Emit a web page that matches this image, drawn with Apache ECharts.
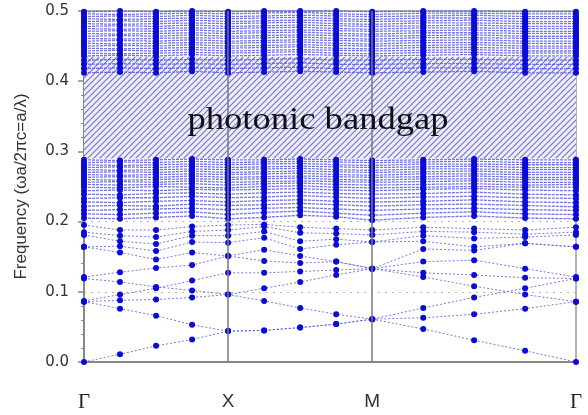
<!DOCTYPE html>
<html>
<head>
<meta charset="utf-8">
<title>band structure</title>
<style>
  html, body { margin: 0; padding: 0; background: #fff; }
  #main { width: 588px; height: 415px; }
</style>
</head>
<body>
<div id="main"></div>
<script src="https://cdn.jsdelivr.net/npm/echarts@6/dist/echarts.min.js"></script>
<script>
// k path: Γ -> X -> M -> Γ, 4 steps per segment
var kPath = [0, 0.25, 0.5, 0.75, 1, 1.25, 1.5, 1.75, 2, 2.354, 2.707, 3.061, 3.414];
var kTicks = [0, 1, 2, 3.414];
var kNames = ['Γ', 'X', 'M', 'Γ'];
var gapLow = 0.29, gapHigh = 0.435;

// clearly resolved low bands
var lowBands = [
  [0, .011, .023, .032, .044, .045, .049, .054, .061, .047, .031, .016, 0],
  [.086, .076, .066, .053, .044, .045, .049, .054, .061, .063, .068, .076, .086],
  [.086, .088, .089, .092, .096, .087, .077, .068, .061, .077, .092, .105, .119],
  [.087, .096, .105, .116, .127, .127, .129, .131, .133, .127, .124, .120, .119],
  [.119, .114, .107, .102, .096, .105, .114, .124, .133, .121, .108, .096, .086],
  [.121, .128, .134, .138, .151, .144, .141, .143, .133, .143, .145, .133, .121],
  [.164, .156, .146, .156, .151, .160, .151, .143, .133, .161, .159, .169, .164],
  [.164, .165, .158, .171, .170, .177, .161, .167, .171, .172, .164, .169, .164],
  [.181, .172, .168, .180, .180, .186, .172, .175, .171, .180, .176, .178, .181],
  [.185, .180, .178, .186, .188, .193, .184, .183, .181, .186, .185, .182, .185],
  [.195, .188, .188, .193, .195, .196, .192, .190, .188, .192, .190, .188, .192]
];

// bands between 0.2 and the gap
var midBands = [
  [.205, .204, .206, .208, .204, .206, .209, .207, .202, .206, .208, .205, .204],
  [.211, .210, .212, .214, .210, .213, .215, .212, .209, .212, .214, .211, .210],
  [.216, .217, .218, .219, .217, .219, .220, .218, .216, .218, .219, .217, .216],
  [.222, .223, .222, .225, .223, .224, .226, .224, .222, .224, .225, .223, .221],
  [.228, .227, .229, .230, .228, .230, .231, .229, .228, .229, .231, .228, .227],
  [.233, .234, .234, .236, .234, .235, .237, .235, .233, .235, .236, .234, .233],
  [.239, .238, .240, .241, .239, .241, .242, .240, .239, .240, .242, .239, .238],
  [.244, .245, .244, .246, .245, .246, .247, .245, .244, .246, .247, .245, .244],
  [.249, .248, .250, .249, .248, .250, .251, .249, .248, .249, .250, .249, .249],
  [.253, .252, .253, .254, .252, .254, .255, .253, .252, .253, .254, .252, .253],
  [.256, .257, .256, .258, .256, .257, .258, .257, .256, .257, .258, .256, .256],
  [.260, .259, .260, .261, .260, .261, .262, .260, .259, .261, .261, .260, .260],
  [.263, .264, .263, .265, .263, .264, .265, .264, .263, .264, .265, .263, .263],
  [.267, .266, .267, .268, .267, .268, .269, .267, .266, .268, .268, .267, .267],
  [.270, .271, .270, .272, .270, .271, .272, .271, .270, .271, .272, .270, .270],
  [.274, .273, .274, .275, .274, .275, .276, .274, .273, .275, .275, .274, .274],
  [.277, .278, .277, .279, .277, .278, .279, .278, .277, .278, .279, .277, .277],
  [.281, .280, .281, .282, .281, .282, .283, .281, .280, .282, .282, .281, .281],
  [.284, .285, .284, .286, .284, .285, .286, .285, .284, .285, .286, .284, .284],
  [.288, .287, .288, .289, .288, .288, .289, .288, .287, .288, .289, .288, .288]
];

// bands above the gap
var highBands = [
  [.412, .413, .412, .414, .412, .413, .414, .413, .412, .413, .414, .412, .412],
  [.418, .419, .418, .419, .418, .419, .420, .418, .418, .419, .419, .418, .418],
  [.424, .425, .424, .425, .424, .425, .426, .424, .424, .425, .425, .424, .424],
  [.430, .431, .430, .431, .430, .431, .432, .430, .430, .431, .431, .430, .430],
  [.436, .437, .436, .438, .436, .437, .438, .437, .436, .437, .438, .436, .436],
  [.440, .439, .440, .441, .440, .441, .442, .440, .439, .441, .441, .440, .440],
  [.443, .444, .443, .445, .443, .444, .445, .444, .443, .444, .445, .443, .443],
  [.447, .446, .447, .448, .447, .448, .449, .447, .446, .448, .448, .447, .447],
  [.450, .451, .450, .452, .450, .451, .452, .451, .450, .451, .452, .450, .450],
  [.454, .453, .454, .455, .454, .455, .456, .454, .453, .455, .455, .454, .454],
  [.457, .458, .457, .459, .457, .458, .459, .458, .457, .458, .459, .457, .457],
  [.461, .460, .461, .462, .461, .462, .463, .461, .460, .462, .462, .461, .461],
  [.464, .465, .464, .466, .464, .465, .466, .465, .464, .465, .466, .464, .464],
  [.468, .467, .468, .469, .468, .469, .470, .468, .467, .469, .469, .468, .468],
  [.471, .472, .471, .473, .471, .472, .473, .472, .471, .472, .473, .471, .471],
  [.475, .474, .475, .476, .475, .476, .477, .475, .474, .476, .476, .475, .475],
  [.478, .479, .478, .480, .478, .479, .480, .479, .478, .479, .480, .478, .478],
  [.482, .481, .482, .483, .482, .483, .484, .482, .481, .483, .483, .482, .482],
  [.485, .486, .485, .487, .485, .486, .487, .486, .485, .486, .487, .485, .485],
  [.489, .488, .489, .490, .489, .490, .491, .489, .488, .490, .490, .489, .489],
  [.492, .493, .492, .494, .492, .493, .494, .493, .492, .493, .494, .492, .492],
  [.496, .495, .496, .497, .496, .497, .498, .496, .495, .497, .497, .496, .496],
  [.499, .500, .499, .500, .499, .500, .500, .500, .499, .500, .500, .499, .499]
];

// diagonal hatch for the gap
function hatch() {
  var s = 6;
  var c = document.createElement('canvas');
  c.width = s; c.height = s;
  var g = c.getContext('2d');
  g.fillStyle = '#eeeefa';
  g.fillRect(0, 0, s, s);
  g.strokeStyle = '#7676c2';
  g.lineWidth = 1.2;
  g.beginPath();
  g.moveTo(-1, s + 1); g.lineTo(s + 1, -1);
  g.moveTo(-1, 1); g.lineTo(1, -1);
  g.moveTo(s - 1, s + 1); g.lineTo(s + 1, s - 1);
  g.stroke();
  return c;
}

function bandSeries(list, dense) {
  return list.map(function (b) {
    return {
      type: 'line',
      data: b.map(function (f, i) { return [kPath[i], f]; }),
      symbol: 'circle',
      symbolSize: 6,
      itemStyle: { color: '#0b0bd6' },
      lineStyle: dense
        ? { color: '#5a5aea', width: 1.3, type: [3, 1], opacity: 0.85 }
        : { color: '#4b4be6', width: 1, type: [2, 2], opacity: 0.75 },
      silent: true,
      z: 3
    };
  });
}

var chart = echarts.init(document.getElementById('main'));

var option = {
  animation: false,
  grid: { left: 84, right: 12, top: 11, bottom: 53, show: true, borderColor: '#999', borderWidth: 1.5 },
  xAxis: {
    type: 'value', min: 0, max: 3.414,
    axisLine: { lineStyle: { color: '#888', width: 2 } },
    axisTick: { show: false },
    splitLine: { show: false },
    axisLabel: {
      customValues: kTicks,
      margin: 30,
      formatter: function (v) {
        var n = kNames[kTicks.indexOf(v)];
        return n === 'Γ' ? '{g|' + n + '}' : '{s|' + n + '}';
      },
      rich: {
        g: { fontFamily: 'Liberation Serif', fontSize: 21, color: '#222' },
        s: { fontFamily: 'Liberation Sans', fontSize: 19, color: '#333' }
      }
    }
  },
  yAxis: {
    type: 'value', min: 0, max: 0.5, interval: 0.1,
    name: 'Frequency (ωa/2πc=a/λ)',
    nameLocation: 'middle',
    nameGap: 54,
    nameTextStyle: { fontFamily: 'Liberation Sans', fontSize: 17, color: '#333' },
    axisLine: { lineStyle: { color: '#888', width: 2 } },
    axisTick: { show: true, length: 6, lineStyle: { color: '#888', width: 1.5 } },
    minorTick: { show: true, splitNumber: 5, length: 3, lineStyle: { color: '#888' } },
    splitLine: { show: true, lineStyle: { color: '#bdb89c', type: [2, 5], width: 1.2 } },
    axisLabel: {
      margin: 15,
      fontFamily: 'DejaVu Sans', fontSize: 15, color: '#333',
      formatter: function (v) { return v.toFixed(1); }
    }
  },
  graphic: [{
    type: 'text',
    x: 318, y: 121,
    scaleX: 1.18,
    style: {
      text: 'photonic bandgap',
      x: 0, y: 0,
      align: 'center', verticalAlign: 'middle',
      font: '31px "Liberation Serif"',
      fill: '#111'
    },
    z: 10
  }],
  series: [{
    type: 'line', data: [], silent: true, z: 1,
    markArea: {
      silent: true,
      itemStyle: { color: { image: hatch(), repeat: 'repeat' } },
      data: [[{ yAxis: gapLow }, { yAxis: gapHigh }]]
    }
  }, {
    type: 'line', data: [], silent: true, z: 2,
    markLine: {
      silent: true, symbol: 'none',
      label: { show: false },
      lineStyle: { color: '#7a7a7a', width: 1.5, type: 'solid' },
      data: [{ xAxis: kTicks[1] }, { xAxis: kTicks[2] }]
    }
  }].concat(bandSeries(lowBands, false), bandSeries(midBands, true), bandSeries(highBands, true))
};

chart.setOption(option);
</script>
</body>
</html>
